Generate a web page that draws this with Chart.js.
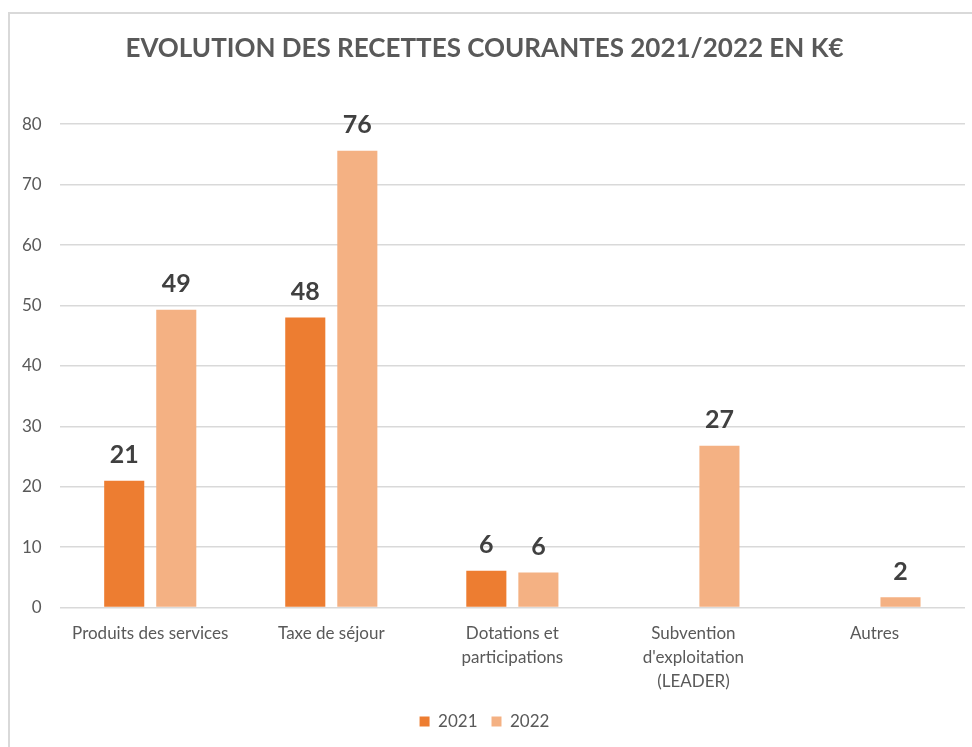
<!DOCTYPE html>
<html>
<head>
<meta charset="utf-8">
<script src="https://cdn.jsdelivr.net/npm/chart.js@4/dist/chart.umd.min.js"></script>
<style>
  html, body { margin: 0; padding: 0; background: #fff; }
  #wrap { position: relative; width: 972px; height: 747px; }
  #frame { position: absolute; left: 8px; top: 12px; width: 970px; height: 740px; border-left: 2px solid #d9d9d9; border-top: 2px solid #d9d9d9; box-sizing: border-box; pointer-events: none; }
  canvas { position: absolute; left: 0; top: 0; }
</style>
</head>
<body>
<div id="wrap">
  <canvas id="c" width="972" height="747"></canvas>
  <div id="frame"></div>
</div>
<script>
const categories = [
  "Produits des services",
  "Taxe de séjour",
  ["Dotations et", "participations"],
  ["Subvention", "d'exploitation", "(LEADER)"],
  "Autres"
];
const values2021 = [21, 48, 6.1, null, null];
const values2022 = [49.3, 75.6, 5.8, 26.8, 1.7];
const seriesNames = ["2021", "2022"];
const yTicks = [0, 10, 20, 30, 40, 50, 60, 70, 80];

const FONT = 'Lato, "Open Sans", sans-serif';

const labelPlugin = {
  id: 'barLabels',
  afterDatasetsDraw(chart) {
    const ctx = chart.ctx;
    ctx.save();
    ctx.font = 'bold 25px ' + FONT;
    ctx.fillStyle = '#404040';
    ctx.textAlign = 'center';
    ctx.textBaseline = 'bottom';
    chart.data.datasets.forEach((ds, i) => {
      const meta = chart.getDatasetMeta(i);
      meta.data.forEach((bar, j) => {
        const v = ds.data[j];
        if (v === null || v === undefined) return;
        ctx.fillText(String(Math.round(v)), bar.x, bar.y - 13);
      });
    });
    ctx.restore();
  }
};

new Chart(document.getElementById('c'), {
  type: 'bar',
  data: {
    labels: categories,
    datasets: [
      { label: seriesNames[0], data: values2021, backgroundColor: '#ed7d31', categoryPercentage: 0.575, barPercentage: 0.77 },
      { label: seriesNames[1], data: values2022, backgroundColor: '#f4b183', categoryPercentage: 0.575, barPercentage: 0.77 }
    ]
  },
  options: {
    responsive: false,
    animation: false,
    layout: { padding: { left: 4, right: 7, top: 20, bottom: 7 } },
    plugins: {
      title: {
        display: true,
        text: 'EVOLUTION DES RECETTES COURANTES 2021/2022 EN K€',
        color: '#595959',
        font: { family: FONT, size: 26, weight: 'bold' },
        padding: { top: 13, bottom: 60 }
      },
      legend: {
        position: 'bottom',
        labels: {
          color: '#595959',
          font: { family: FONT, size: 17 },
          boxWidth: 10, boxHeight: 10, padding: 14
        }
      },
      tooltip: { enabled: false }
    },
    scales: {
      x: {
        grid: { display: false },
        border: { display: false },
        ticks: { color: '#595959', font: { family: FONT, size: 17, lineHeight: 1.4 }, maxRotation: 0, padding: 6 }
      },
      y: {
        min: 0, max: 80,
        afterBuildTicks(axis) { axis.ticks = yTicks.map(v => ({ value: v })); },
        grid: { color: '#d9d9d9', lineWidth: 1.5, drawTicks: false },
        border: { display: false },
        ticks: { color: '#595959', font: { family: FONT, size: 17 }, padding: 18 }
      }
    }
  },
  plugins: [labelPlugin]
});
</script>
</body>
</html>
